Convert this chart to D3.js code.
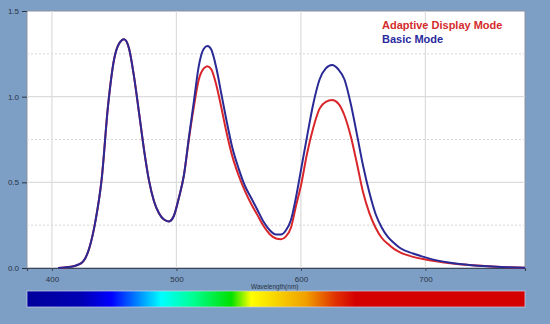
<!DOCTYPE html>
<html>
<head>
<meta charset="utf-8">
<style>
body { margin: 0; padding: 0; background: #7d9ec5; overflow: hidden; }
svg { display: block; }
.tick text { font: 8px "Liberation Sans", Arial, sans-serif; fill: #2a3444; }
.legend { font: bold 11px "Liberation Sans", Arial, sans-serif; }
</style>
</head>
<body>
<script src="https://cdn.jsdelivr.net/npm/d3@7"></script>
<script>
// wavelength (nm)
var wavelengths = [405, 410, 415, 420, 425, 430, 435, 440, 445, 450, 454, 458, 462, 466, 470, 474, 478, 482, 486, 490,
    494, 498, 502, 506, 510, 514, 518, 522, 525, 528, 532, 536, 540, 545, 550, 555, 560, 565, 570, 575,
    580, 584, 588, 592, 596, 600, 605, 610, 615, 620, 625, 630, 635, 640, 645, 650, 655, 660, 665, 670,
    675, 680, 690, 700, 710, 720, 735, 750, 765, 780];

var basicMode = [0, 0.003, 0.007, 0.016, 0.037, 0.115, 0.275, 0.52, 0.94, 1.22, 1.31, 1.335, 1.28, 1.115, 0.905, 0.69, 0.51, 0.39, 0.32, 0.283,
    0.272, 0.305, 0.41, 0.54, 0.76, 0.97, 1.18, 1.28, 1.296, 1.275, 1.17, 1.02, 0.87, 0.70, 0.58, 0.48, 0.41, 0.34, 0.27, 0.22,
    0.195, 0.195, 0.22, 0.28, 0.41, 0.57, 0.77, 0.96, 1.10, 1.165, 1.185, 1.16, 1.10, 0.96, 0.78, 0.595, 0.44, 0.315, 0.235, 0.18,
    0.145, 0.115, 0.085, 0.062, 0.043, 0.03, 0.018, 0.01, 0.005, 0.002];

var adaptiveMode = [0, 0.003, 0.007, 0.016, 0.037, 0.115, 0.275, 0.52, 0.94, 1.22, 1.31, 1.335, 1.28, 1.115, 0.905, 0.69, 0.51, 0.39, 0.32, 0.283,
    0.272, 0.305, 0.41, 0.54, 0.75, 0.94, 1.10, 1.165, 1.178, 1.16, 1.07, 0.94, 0.80, 0.65, 0.54, 0.45, 0.375, 0.31, 0.245, 0.197,
    0.172, 0.168, 0.185, 0.235, 0.36, 0.48, 0.67, 0.82, 0.93, 0.97, 0.98, 0.96, 0.89, 0.77, 0.61, 0.44, 0.32, 0.235, 0.175, 0.14,
    0.11, 0.09, 0.065, 0.05, 0.038, 0.028, 0.017, 0.01, 0.005, 0.002];

var xTicks = [400, 500, 600, 700];
var yTicks = [0, 0.5, 1.0, 1.5];
var yMinorTicks = [0.25, 0.75, 1.25];

// spectrum bar colour stops (offset, colour)
var spectrumStops = [[0, "#00009c"], [0.11, "#0000b4"], [0.17, "#0000ff"], [0.27, "#00ffff"], [0.33, "#00ff99"],
    [0.41, "#00e000"], [0.45, "#ffff00"], [0.56, "#f0a000"], [0.62, "#e03000"], [0.66, "#d40000"], [1, "#d40000"]];

var W = 550, H = 324;
var margin = { top: 11, right: 25, bottom: 56, left: 27 },
    width = W - margin.left - margin.right,
    height = H - margin.top - margin.bottom;

var x = d3.scaleLinear().domain([380, 780]).range([0, width]);
var y = d3.scaleLinear().domain([0, 1.5]).range([height, 0]);

var svg = d3.select("body").append("svg")
    .attr("width", W)
    .attr("height", H);

var g = svg.append("g")
    .attr("transform", "translate(" + margin.left + "," + margin.top + ")");

g.append("rect")
    .attr("width", width)
    .attr("height", height)
    .attr("fill", "white")
    .attr("stroke", "#8a93a3")
    .attr("stroke-width", 1);

// grid
g.selectAll(".vgrid")
    .data(xTicks)
    .enter().append("line")
    .attr("x1", d => x(d)).attr("x2", d => x(d))
    .attr("y1", 0).attr("y2", height)
    .attr("stroke", "#dcdcdc").attr("stroke-width", 1.2);

g.selectAll(".hgrid")
    .data([0.5, 1.0])
    .enter().append("line")
    .attr("x1", 0).attr("x2", width)
    .attr("y1", d => y(d)).attr("y2", d => y(d))
    .attr("stroke", "#dcdcdc").attr("stroke-width", 1.2);

g.selectAll(".hgrid2")
    .data(yMinorTicks)
    .enter().append("line")
    .attr("x1", 0).attr("x2", width)
    .attr("y1", d => y(d)).attr("y2", d => y(d))
    .attr("stroke", "#d6d6d6").attr("stroke-width", 1)
    .attr("stroke-dasharray", "2,2");

// axes
var yAxis = g.append("g")
    .call(d3.axisLeft(y).tickValues(yTicks).tickFormat(d3.format(".1f")).tickSize(5).tickPadding(3));
yAxis.select(".domain").remove();
yAxis.selectAll(".tick line").attr("stroke", "#2a3444");

var xAxis = g.append("g")
    .attr("transform", "translate(0," + height + ")")
    .call(d3.axisBottom(x).tickValues(xTicks).tickFormat(d3.format("d")).tickSize(3).tickPadding(5));
xAxis.select(".domain").attr("stroke", "#3c4658").attr("stroke-width", 1.2);
xAxis.selectAll(".tick line").attr("stroke", "#3c4658");

g.append("text")
    .attr("x", x(579))
    .attr("y", height + 21)
    .attr("text-anchor", "middle")
    .style("font", "6.5px 'Liberation Sans', Arial, sans-serif")
    .style("fill", "#2a3444")
    .text("Wavelength(nm)");

// curves
var line = d3.line()
    .x((d, i) => x(wavelengths[i]))
    .y(d => y(d))
    .curve(d3.curveMonotoneX);

g.append("path")
    .datum(adaptiveMode)
    .attr("fill", "none")
    .attr("stroke", "#d8262a")
    .attr("stroke-width", 2)
    .attr("d", line);

g.append("path")
    .datum(basicMode)
    .attr("fill", "none")
    .attr("stroke", "#2a2a96")
    .attr("stroke-width", 2)
    .attr("d", line);

// legend
svg.append("text").attr("class", "legend")
    .attr("x", 382).attr("y", 29)
    .style("fill", "#d42b2b")
    .text("Adaptive Display Mode");
svg.append("text").attr("class", "legend")
    .attr("x", 382).attr("y", 43)
    .style("fill", "#2a2aa0")
    .text("Basic Mode");

// spectrum bar
var grad = svg.append("defs").append("linearGradient")
    .attr("id", "spectrum")
    .attr("x1", "0%").attr("x2", "100%");
grad.selectAll("stop")
    .data(spectrumStops)
    .enter().append("stop")
    .attr("offset", d => d[0])
    .attr("stop-color", d => d[1]);

svg.append("rect")
    .attr("x", margin.left)
    .attr("y", 291)
    .attr("width", width)
    .attr("height", 16)
    .attr("fill", "url(#spectrum)")
    .attr("stroke", "#c9d3ea")
    .attr("stroke-opacity", 0.7)
    .attr("stroke-width", 1);
</script>
</body>
</html>
